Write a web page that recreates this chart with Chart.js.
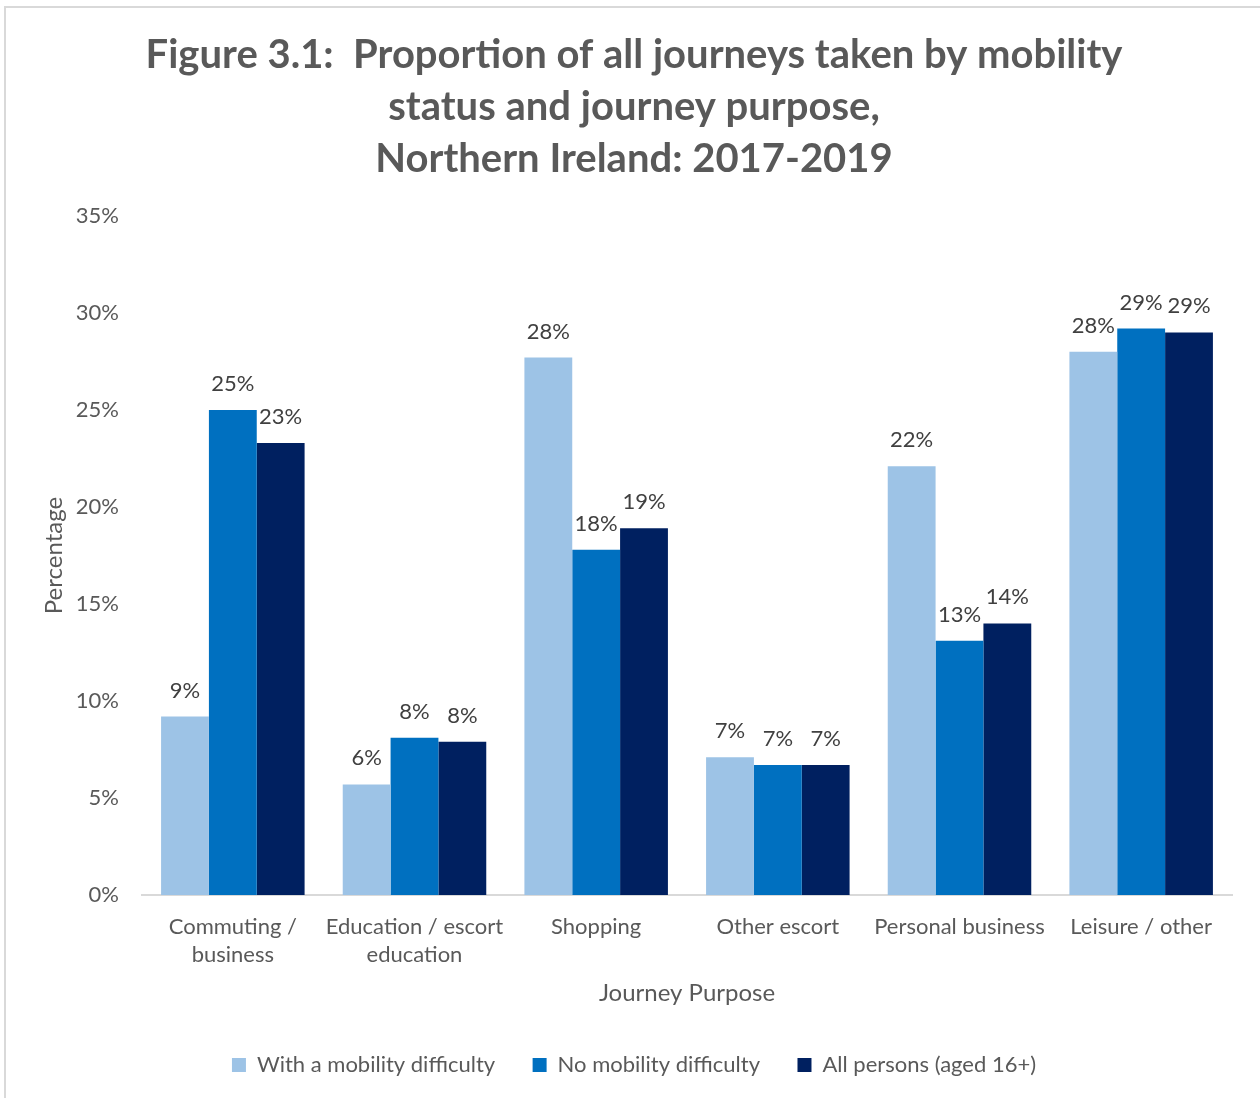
<!DOCTYPE html>
<html>
<head>
<meta charset="utf-8">
<script src="https://cdn.jsdelivr.net/npm/chart.js@4/dist/chart.umd.min.js"></script>
<style>
  html, body { margin: 0; padding: 0; background: #fff; }
  #wrap { width: 1260px; height: 1098px; }
</style>
</head>
<body>
<div id="wrap"><canvas id="myChart" width="1260" height="1098"></canvas></div>
<script>
const categories = [['Commuting /', 'business'], ['Education / escort', 'education'], 'Shopping', 'Other escort', 'Personal business', 'Leisure / other'];
const withDifficulty = [9.2, 5.7, 27.7, 7.1, 22.1, 28.0];
const noDifficulty = [25.0, 8.1, 17.8, 6.7, 13.1, 29.2];
const allPersons = [23.3, 7.9, 18.9, 6.7, 14.0, 29.0];
const seriesNames = ['With a mobility difficulty', 'No mobility difficulty', 'All persons (aged 16+)'];
const titleLines = ['Figure 3.1:  Proportion of all journeys taken by mobility', 'status and journey purpose,', 'Northern Ireland: 2017-2019'];

const FONT = 'Lato, "Open Sans", sans-serif';

// frame round the chart + value labels above the bars
const extras = {
  id: 'extras',
  beforeDraw(chart) {
    const c = chart.ctx;
    c.save();
    c.strokeStyle = '#d9d9d9';
    c.lineWidth = 2;
    c.strokeRect(5, 7, 1400, 1200);
    c.restore();
  },
  afterDatasetsDraw(chart) {
    const c = chart.ctx;
    c.save();
    c.font = '22px ' + FONT;
    c.fillStyle = '#404040';
    c.textAlign = 'center';
    c.textBaseline = 'alphabetic';
    chart.data.datasets.forEach((ds, i) => {
      chart.getDatasetMeta(i).data.forEach((bar, j) => {
        c.fillText(Math.round(ds.data[j]) + '%', bar.x, bar.y - 19);
      });
    });
    c.restore();
  }
};

let ctx = document.getElementById('myChart');
let myChart = new Chart(ctx, {
  type: 'bar',
  data: {
    labels: categories,
    datasets: [
      { label: seriesNames[0], data: withDifficulty, backgroundColor: '#9dc3e6' },
      { label: seriesNames[1], data: noDifficulty, backgroundColor: '#0070c0' },
      { label: seriesNames[2], data: allPersons, backgroundColor: '#002060' }
    ]
  },
  options: {
    responsive: false,
    devicePixelRatio: 1,
    animation: false,
    layout: { padding: { left: 8, right: 0, top: 0, bottom: 12 } },
    datasets: { bar: { barPercentage: 1, categoryPercentage: 0.79 } },
    plugins: {
      tooltip: { enabled: false },
      title: {
        display: true,
        text: titleLines,
        color: '#595959',
        font: { family: FONT, size: 40, weight: 'bold', lineHeight: 1.3 },
        padding: { top: 29, bottom: 31 }
      },
      legend: {
        position: 'bottom',
        labels: {
          color: '#595959',
          font: { family: FONT, size: 22 },
          boxWidth: 14,
          boxHeight: 14,
          padding: 10,
          generateLabels(chart) {
            const items = Chart.defaults.plugins.legend.labels.generateLabels(chart);
            items.forEach((it, i) => {
              if (i < items.length - 1) it.text += '\u2003\u2002';
            });
            return items;
          }
        }
      }
    },
    scales: {
      x: {
        grid: { display: false, drawTicks: false },
        border: { color: '#d9d9d9', width: 2 },
        ticks: {
          color: '#595959',
          font: { family: FONT, size: 22, lineHeight: 1.27 },
          padding: 18,
          maxRotation: 0,
          autoSkip: false
        },
        title: {
          display: true,
          text: 'Journey Purpose',
          color: '#595959',
          font: { family: FONT, size: 24, lineHeight: 1.27 },
          padding: { top: 10, bottom: 35 }
        },
        afterFit(s) { s.height = 149; }
      },
      y: {
        min: 0,
        max: 35,
        grid: { display: false, drawTicks: false },
        border: { display: false },
        ticks: {
          stepSize: 5,
          color: '#595959',
          font: { family: FONT, size: 22 },
          padding: 23,
          callback: v => v + '%'
        },
        title: {
          display: true,
          text: 'Percentage',
          color: '#595959',
          font: { family: FONT, size: 24, lineHeight: 1.27 },
          padding: { top: 31, bottom: 0 }
        },
        afterFit(s) { s.width = 134; }
      },
      // empty right-hand strip so the plot stops where the reference does
      yRight: {
        type: 'linear',
        position: 'right',
        grid: { display: false, drawTicks: false },
        border: { display: false },
        ticks: { display: false },
        afterFit(s) { s.width = 28; }
      }
    }
  },
  plugins: [extras]
});
</script>
</body>
</html>
